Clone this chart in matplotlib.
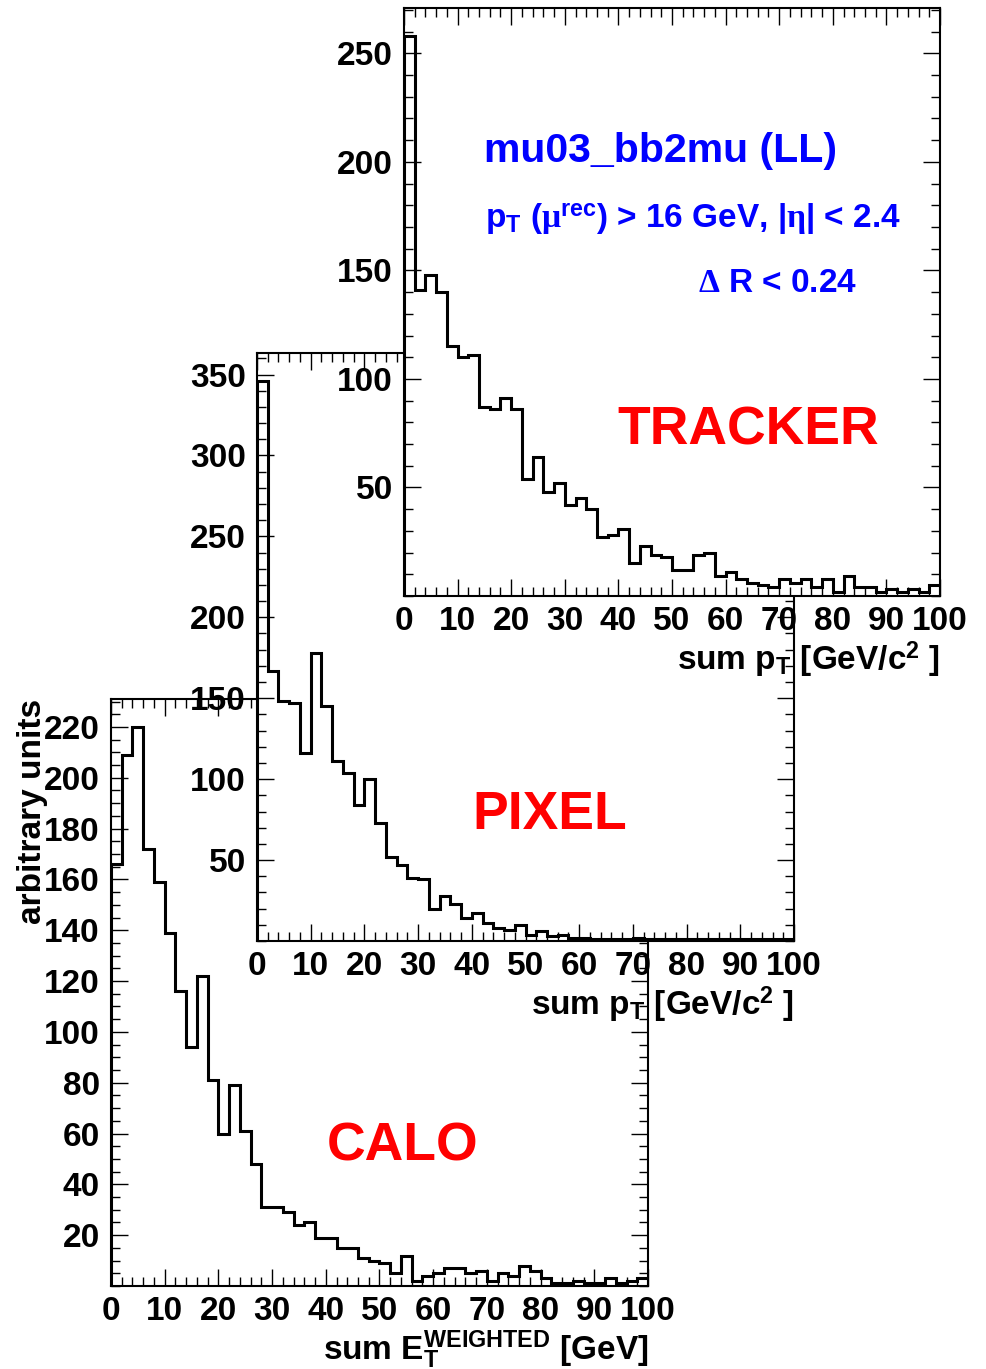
import numpy as np
import matplotlib.pyplot as plt
from matplotlib.ticker import MultipleLocator

plt.rcParams['font.family'] = ['Liberation Sans', 'DejaVu Sans']
plt.rcParams['font.weight'] = 'bold'
plt.rcParams['mathtext.fontset'] = 'custom'
plt.rcParams['mathtext.rm'] = 'Liberation Sans:bold'
plt.rcParams['mathtext.bf'] = 'Liberation Sans:bold'
plt.rcParams['mathtext.sf'] = 'Liberation Sans:bold'
plt.rcParams['mathtext.it'] = 'Liberation Serif'
plt.rcParams['mathtext.cal'] = 'Liberation Serif'

# 50 bins of 2 GeV between 0 and 100
edges = np.arange(0, 101, 2)

tracker = [258, 141, 148, 140, 115, 110, 111, 87, 86, 91,
           86, 54, 64, 48, 52, 42, 45, 40, 27, 28,
           31, 15, 23, 19, 18, 12, 12, 19, 20, 9,
           11, 8, 6, 5, 4, 8, 6, 8, 4, 8,
           2, 9, 4, 4, 2, 3, 2, 3, 2, 5]

pixel = [346, 167, 148, 147, 116, 178, 145, 111, 104, 84,
         100, 73, 52, 47, 39, 38, 20, 28, 23, 14,
         17, 11, 8, 7, 10, 4, 6, 3, 4, 2,
         2, 1, 1, 1, 1, 2, 1, 1, 1, 1,
         1, 1, 1, 1, 1, 1, 1, 1, 1, 1]

calo = [166, 209, 220, 172, 159, 139, 116, 94, 122, 81,
        60, 79, 61, 48, 31, 31, 29, 24, 25, 19,
        19, 15, 15, 11, 10, 9, 5, 12, 2, 4,
        5, 7, 7, 5, 6, 2, 5, 4, 8, 6,
        3, 1, 1, 2, 1, 1, 3, 1, 2, 3]

xlab_pt = r'sum p$_\mathrm{T}$ [GeV/c$^\mathrm{2}$ ]'
xlab_et = r'sum E$_\mathrm{T}^\mathrm{WEIGHTED}$ [GeV]'

W, H = 986, 1369
fig = plt.figure(figsize=(W / 100, H / 100), dpi=100)


def rect(x0, y0, x1, y1):
    return [x0 / W, 1 - y1 / H, (x1 - x0) / W, (y1 - y0) / H]


r_trk = rect(404, 8, 940, 596)
r_pix = rect(257, 353, 794, 941)
r_cal = rect(111, 699, 648, 1286)

LBL = 24


def base(r, z, vals, ystep, yminor):
    ax = fig.add_axes(r, zorder=z)
    ymax = 1.05 * max(vals)
    ax.set_xlim(0, 100)
    ax.set_ylim(0, ymax)
    ax.set_xticks(np.arange(0, 101, 10))
    ax.xaxis.set_minor_locator(MultipleLocator(2))
    ax.set_yticks(np.arange(ystep, ymax, ystep))
    ax.yaxis.set_minor_locator(MultipleLocator(yminor))
    return ax


def labels(r, z, vals, ystep, yminor, xlabel):
    ax = base(r, z, vals, ystep, yminor)
    ax.patch.set_visible(False)
    for s in ax.spines.values():
        s.set_visible(False)
    ax.tick_params(which='both', length=0, labelsize=LBL)
    ax.tick_params(axis='x', pad=7)
    ax.tick_params(axis='y', pad=8)
    ax.text(1.0, -0.126, xlabel, transform=ax.transAxes, ha='right',
            va='baseline', fontsize=LBL)
    return ax


def frame(r, z, vals, ystep, yminor, face):
    ax = base(r, z, vals, ystep, yminor)
    ax.set_facecolor(face)
    for s in ax.spines.values():
        s.set_linewidth(1.5)
    ax.tick_params(which='both', direction='in', top=True, right=True,
                   labelbottom=False, labelleft=False, width=1.0)
    ax.tick_params(which='major', length=12)
    ax.tick_params(which='minor', length=6.5)
    return ax


def hist(ax, vals):
    ax.stairs(vals, edges, color='black', linewidth=2.2)


# CALO (bottom)
ax_cl = labels(r_cal, 1, calo, 20, 5, xlab_et)
ax_cl.text(-0.147, 1.0, 'arbitrary units', transform=ax_cl.transAxes,
           rotation=90, ha='center', va='top', fontsize=LBL)
ax_c = frame(r_cal, 3, calo, 20, 5, 'none')
hist(ax_c, calo)
ax_c.text(0.402, 0.213, 'CALO', transform=ax_c.transAxes, color='#ff0000',
          fontsize=38.5)

# PIXEL (middle)
labels(r_pix, 2, pixel, 50, 10, xlab_pt)
ax_pf = base(r_pix, 4, pixel, 50, 10)
ax_pf.set_facecolor('white')
for s in ax_pf.spines.values():
    s.set_visible(False)
ax_pf.tick_params(which='both', length=0, labelbottom=False, labelleft=False)
hist(ax_pf, pixel)
ax_pf.text(0.402, 0.190, 'PIXEL', transform=ax_pf.transAxes, color='#ff0000',
           fontsize=38.5)
frame(r_pix, 6, pixel, 50, 10, 'none')

# TRACKER (top)
labels(r_trk, 5, tracker, 50, 10, xlab_pt)
ax_t = frame(r_trk, 7, tracker, 50, 10, 'white')
hist(ax_t, tracker)
ax_t.text(0.399, 0.257, 'TRACKER', transform=ax_t.transAxes, color='#ff0000',
          fontsize=38.5)
ax_t.text(0.149, 0.738, 'mu03_bb2mu (LL)', transform=ax_t.transAxes,
          color='#0000ff', fontsize=29.5)
ax_t.text(0.151, 0.626,
          r'p$_\mathrm{T}$ ($\mathcal{\mu}^\mathrm{rec}$) > 16 GeV, '
          r'|$\mathcal{\eta}$| < 2.4',
          transform=ax_t.transAxes, color='#0000ff', fontsize=24)
ax_t.text(0.549, 0.517, r'$\mathcal{\Delta}$ R < 0.24',
          transform=ax_t.transAxes, color='#0000ff', fontsize=24)

fig.savefig('out.png', dpi=100)
